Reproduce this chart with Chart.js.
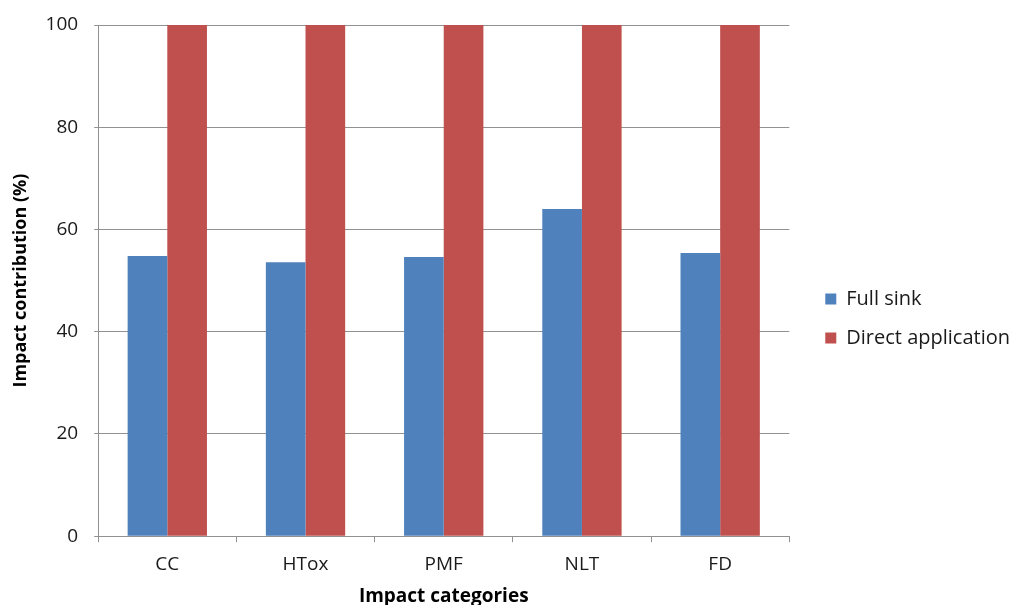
<!DOCTYPE html>
<html>
<head>
<meta charset="utf-8">
<script src="https://cdn.jsdelivr.net/npm/chart.js@4"></script>
<style>
  body { margin: 0; background: #fff; }
  #wrap { width: 1013px; height: 605px; }
</style>
</head>
<body>
<div id="wrap"><canvas id="impactChart" width="1013" height="605"></canvas></div>
<script>
// Kategorien und Werte
const categories = ["CC", "HTox", "PMF", "NLT", "FD"];
const fullSink = [54.8, 53.6, 54.6, 64.0, 55.4];
const directApplication = [100, 100, 100, 100, 100];
const yTicks = [0, 20, 40, 60, 80, 100];

const fontFamily = "'Open Sans', 'Liberation Sans', sans-serif";
const gridColor = "#919191";

// Legende etwas nach rechts/unten schieben (wie im Original)
const legendShift = {
  id: "legendShift",
  afterLayout(chart) {
    const lg = chart.legend;
    if (!lg) return;
    lg.left += 17;
    lg.right += 17;
    lg.top += 3;
    lg.bottom += 3;
  },
};

const config = {
  type: "bar",
  data: {
    labels: categories,
    datasets: [
      {
        label: "Full sink",
        data: fullSink,
        backgroundColor: "#4F81BD",
        categoryPercentage: 0.574,
        barPercentage: 1.0,
      },
      {
        label: "Direct application",
        data: directApplication,
        backgroundColor: "#C0504D",
        categoryPercentage: 0.574,
        barPercentage: 1.0,
      },
    ],
  },
  options: {
    animation: { duration: 0 },
    responsive: false,
    layout: {
      padding: { top: 25, left: 10, right: 10, bottom: -1 },
    },
    plugins: {
      tooltip: { enabled: false },
      legend: {
        position: "right",
        align: "center",
        labels: {
          boxWidth: 11,
          boxHeight: 11,
          padding: 19,
          color: "#1a1a1a",
          font: { size: 20, family: fontFamily },
        },
      },
    },
    scales: {
      x: {
        grid: {
          display: true,
          offset: true,
          drawOnChartArea: false,
          drawTicks: true,
          tickLength: 6,
          color: gridColor,
        },
        border: { color: gridColor },
        ticks: {
          color: "#1a1a1a",
          padding: 11,
          font: { size: 19, family: fontFamily },
        },
        title: {
          display: true,
          text: "Impact categories",
          color: "#000",
          padding: { top: 0, bottom: 0 },
          font: { size: 19, weight: "bold", family: fontFamily, lineHeight: 1.0 },
        },
      },
      y: {
        min: 0,
        max: 100,
        afterBuildTicks: (axis) => {
          axis.ticks = yTicks.map((v) => ({ value: v }));
        },
        grid: {
          color: gridColor,
          tickLength: 4,
        },
        border: { color: gridColor },
        ticks: {
          color: "#1a1a1a",
          padding: 16,
          font: { size: 19, family: fontFamily, lineHeight: 0.9 },
        },
        title: {
          display: true,
          text: "Impact contribution (%)",
          color: "#000",
          padding: { top: 0, bottom: -2 },
          font: { size: 18, weight: "bold", family: fontFamily },
        },
      },
    },
  },
  plugins: [legendShift],
};

const ctx = document.getElementById("impactChart").getContext("2d");
const myChart = new Chart(ctx, config);
</script>
</body>
</html>
